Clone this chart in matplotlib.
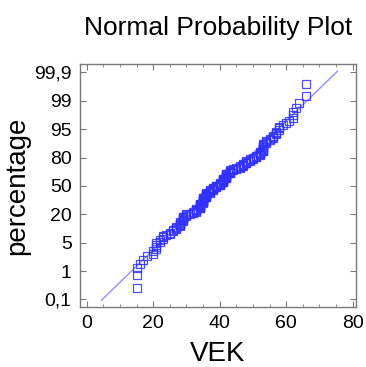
#!/usr/bin/env python3

# Normal probability plot of age (VEK) with a fitted normal line.
from statistics import NormalDist
import numpy as np
import matplotlib
matplotlib.use('Agg')
import matplotlib.pyplot as plt

plt.rcParams['font.family'] = ['Liberation Sans', 'DejaVu Sans']

# Ages and how many respondents had each age
ages = [15, 16, 17, 18, 20, 21, 22, 23, 24, 25, 26, 27, 28, 29, 30, 31, 32,
        33, 34, 35, 36, 37, 38, 39, 40, 41, 42, 43, 44, 45, 46, 47, 48, 49,
        50, 51, 52, 53, 54, 55, 56, 57, 58, 59, 60, 61, 62, 63, 64, 66]
counts = [3, 1, 1, 1, 2, 4, 2, 3, 1, 2, 2, 3, 6, 7, 3, 1, 2,
          5, 9, 10, 9, 5, 5, 4, 5, 8, 9, 6, 2, 2, 3, 4, 4, 3,
          2, 3, 5, 9, 3, 2, 3, 3, 3, 1, 1, 1, 3, 1, 1, 2]

# Percentage axis labels
pct_labels = ['0,1', '1', '5', '20', '50', '80', '95', '99', '99,9']
x_ticks = [0, 20, 40, 60, 80]

vek = np.sort(np.repeat(ages, counts))
n = len(vek)
nd = NormalDist()

# Blom plotting positions -> normal scores
ranks = np.arange(1, n + 1)
pp = (ranks - 0.375) / (n + 0.25)
z = np.array([nd.inv_cdf(p) for p in pp])

# Fitted line from sample mean and sd
mu = vek.mean()
sd = vek.std(ddof=1)
zl = np.array([-3.02, 3.03])
xl = mu + sd * zl

fig = plt.figure(figsize=(3.66, 3.67), dpi=100)
ax = fig.add_axes([0.2186, 0.1635, 0.754, 0.662])

ax.plot(xl, zl, color='#9090ff', lw=1.0)
ax.plot(vek, z, ls='none', marker='s', ms=5.6, mfc='none',
        mec='#3030ff', mew=0.9, alpha=0.85)

ax.set_xlim(-2, 81)
ax.set_ylim(-3.2, 3.22)
ax.set_xticks(x_ticks)
ax.set_xticks(np.arange(0, 81, 5), minor=True)
ax.set_yticks(np.linspace(-3, 3, len(pct_labels)))
ax.set_yticklabels(pct_labels)

for s in ax.spines.values():
    s.set_color('#7a7a7a')
    s.set_linewidth(1.0)
ax.tick_params(which='both', direction='in', top=True, right=True,
               color='#7a7a7a', labelsize=14)
ax.tick_params(axis='x', pad=6)
ax.tick_params(axis='y', pad=6)
ax.tick_params(which='major', length=4.5)
ax.tick_params(which='minor', length=2.5)

ax.set_xlabel('VEK', fontsize=20, labelpad=6)
ax.set_ylabel('percentage', fontsize=20, labelpad=3)
ax.set_title('Normal Probability Plot', fontsize=19, pad=21)

fig.savefig('out.png', dpi=100)
